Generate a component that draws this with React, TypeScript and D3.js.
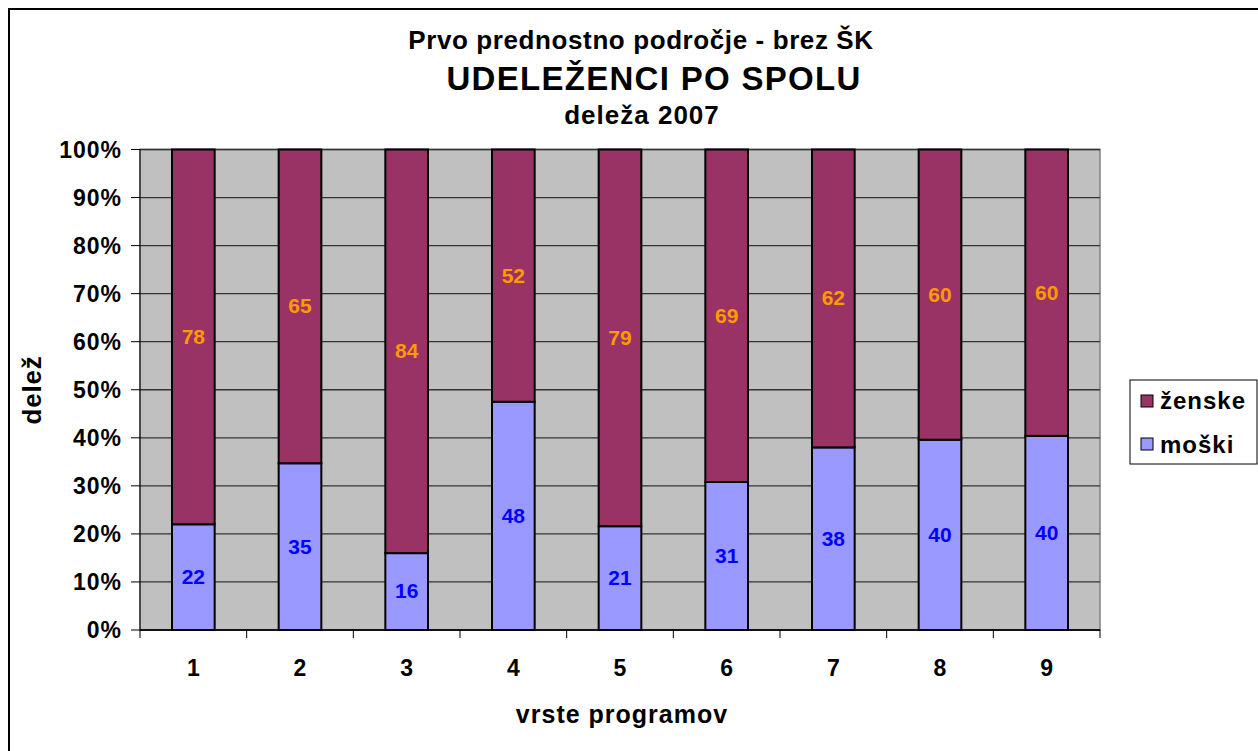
import React from 'react';
import * as d3 from 'd3';

// data (share in %)
const programs = ['1', '2', '3', '4', '5', '6', '7', '8', '9'];
const moski = [22.0, 34.7, 16.0, 47.5, 21.6, 30.8, 38.0, 39.6, 40.4];
const zenske = moski.map((m) => 100 - m);
const moskiLabels = [22, 35, 16, 48, 21, 31, 38, 40, 40];
const zenskeLabels = [78, 65, 84, 52, 79, 69, 62, 60, 60];
const yTicks = [0, 10, 20, 30, 40, 50, 60, 70, 80, 90, 100];

const FONT = '"Liberation Sans", Arial, sans-serif';
const C_ZEN = '#993366';
const C_MOS = '#9999FF';

const App = () => {
  const width = 1258;
  const height = 751;
  const plot = { left: 140, right: 1100, top: 149.5, bottom: 630 };

  const x = d3
    .scaleBand()
    .domain(programs)
    .range([plot.left, plot.right])
    .paddingInner(0.6)
    .paddingOuter(0.3);
  const step = (plot.right - plot.left) / programs.length;

  const y = d3.scaleLinear().domain([0, 100]).range([plot.bottom, plot.top]);

  return (
    <svg
      width={width}
      height={height}
      style={{ position: 'absolute', left: 0, top: 0, fontFamily: FONT }}
    >
      <rect x={0} y={0} width={width} height={height} fill="#fff" />
      <rect x={9} y={9} width={1400} height={900} fill="#fff" stroke="#000" strokeWidth={2} />

      {/* titles */}
      <text x={641} y={49} textAnchor="middle" fontSize={26} fontWeight="bold" letterSpacing={0.6}>
        Prvo prednostno področje - brez ŠK
      </text>
      <text x={654} y={90} textAnchor="middle" fontSize={33} fontWeight="bold" letterSpacing={1.3}>
        UDELEŽENCI PO SPOLU
      </text>
      <text x={642} y={124} textAnchor="middle" fontSize={26} fontWeight="bold" letterSpacing={1}>
        deleža 2007
      </text>

      {/* plot area */}
      <rect
        x={plot.left}
        y={plot.top}
        width={plot.right - plot.left}
        height={plot.bottom - plot.top}
        fill="#C0C0C0"
        stroke="#808080"
        strokeWidth={1.5}
      />
      {yTicks.map((t) => (
        <g key={t}>
          <line x1={plot.left} x2={plot.right} y1={y(t)} y2={y(t)} stroke="#333" strokeWidth={1.3} />
          <line x1={plot.left - 9} x2={plot.left} y1={y(t)} y2={y(t)} stroke="#000" strokeWidth={1} />
          <text
            x={plot.left - 18}
            y={y(t)}
            dy="0.36em"
            textAnchor="end"
            fontSize={23}
            fontWeight="bold"
            letterSpacing={1}
          >
            {t}%
          </text>
        </g>
      ))}
      <line x1={plot.left} x2={plot.left} y1={plot.top} y2={plot.bottom + 8} stroke="#000" strokeWidth={1} />
      <line x1={plot.left} x2={plot.right} y1={plot.bottom} y2={plot.bottom} stroke="#000" strokeWidth={1.3} />

      {/* bars */}
      {programs.map((p, i) => (
        <g key={p}>
          <rect
            x={x(p)}
            y={y(moski[i])}
            width={x.bandwidth()}
            height={y(0) - y(moski[i])}
            fill={C_MOS}
            stroke="#000"
            strokeWidth={2}
          />
          <rect
            x={x(p)}
            y={y(100)}
            width={x.bandwidth()}
            height={y(moski[i]) - y(moski[i] + zenske[i])}
            fill={C_ZEN}
            stroke="#000"
            strokeWidth={2}
          />
          <text
            x={x(p)! + x.bandwidth() / 2}
            y={(y(0) + y(moski[i])) / 2}
            dy="0.33em"
            textAnchor="middle"
            fontSize={21}
            fontWeight="bold"
            fill="#0000FF"
          >
            {moskiLabels[i]}
          </text>
          <text
            x={x(p)! + x.bandwidth() / 2}
            y={(y(100) + y(moski[i])) / 2}
            dy="0.33em"
            textAnchor="middle"
            fontSize={21}
            fontWeight="bold"
            fill="#FF9900"
          >
            {zenskeLabels[i]}
          </text>
        </g>
      ))}

      {/* x axis ticks and labels */}
      {programs.map((p, i) => (
        <g key={'xt' + p}>
          <line
            x1={plot.left + step * (i + 1)}
            x2={plot.left + step * (i + 1)}
            y1={plot.bottom}
            y2={plot.bottom + 8}
            stroke="#000"
            strokeWidth={1}
          />
          <text
            x={x(p)! + x.bandwidth() / 2}
            y={676}
            textAnchor="middle"
            fontSize={23}
            fontWeight="bold"
          >
            {p}
          </text>
        </g>
      ))}

      <text x={622} y={723} textAnchor="middle" fontSize={25} fontWeight="bold" letterSpacing={1}>
        vrste programov
      </text>
      <text
        transform="translate(41,390) rotate(-90)"
        textAnchor="middle"
        fontSize={26}
        fontWeight="bold"
        letterSpacing={0.8}
      >
        delež
      </text>

      {/* legend */}
      <rect x={1130} y={380} width={127} height={84} fill="#fff" stroke="#000" strokeWidth={1} />
      <rect x={1141} y={395} width={12} height={12} fill={C_ZEN} stroke="#000" strokeWidth={1} />
      <text x={1160} y={409} fontSize={24} fontWeight="bold" letterSpacing={1}>
        ženske
      </text>
      <rect x={1141} y={438} width={12} height={12} fill={C_MOS} stroke="#000" strokeWidth={1} />
      <text x={1160} y={453} fontSize={24} fontWeight="bold" letterSpacing={1}>
        moški
      </text>
    </svg>
  );
};

export default App;
